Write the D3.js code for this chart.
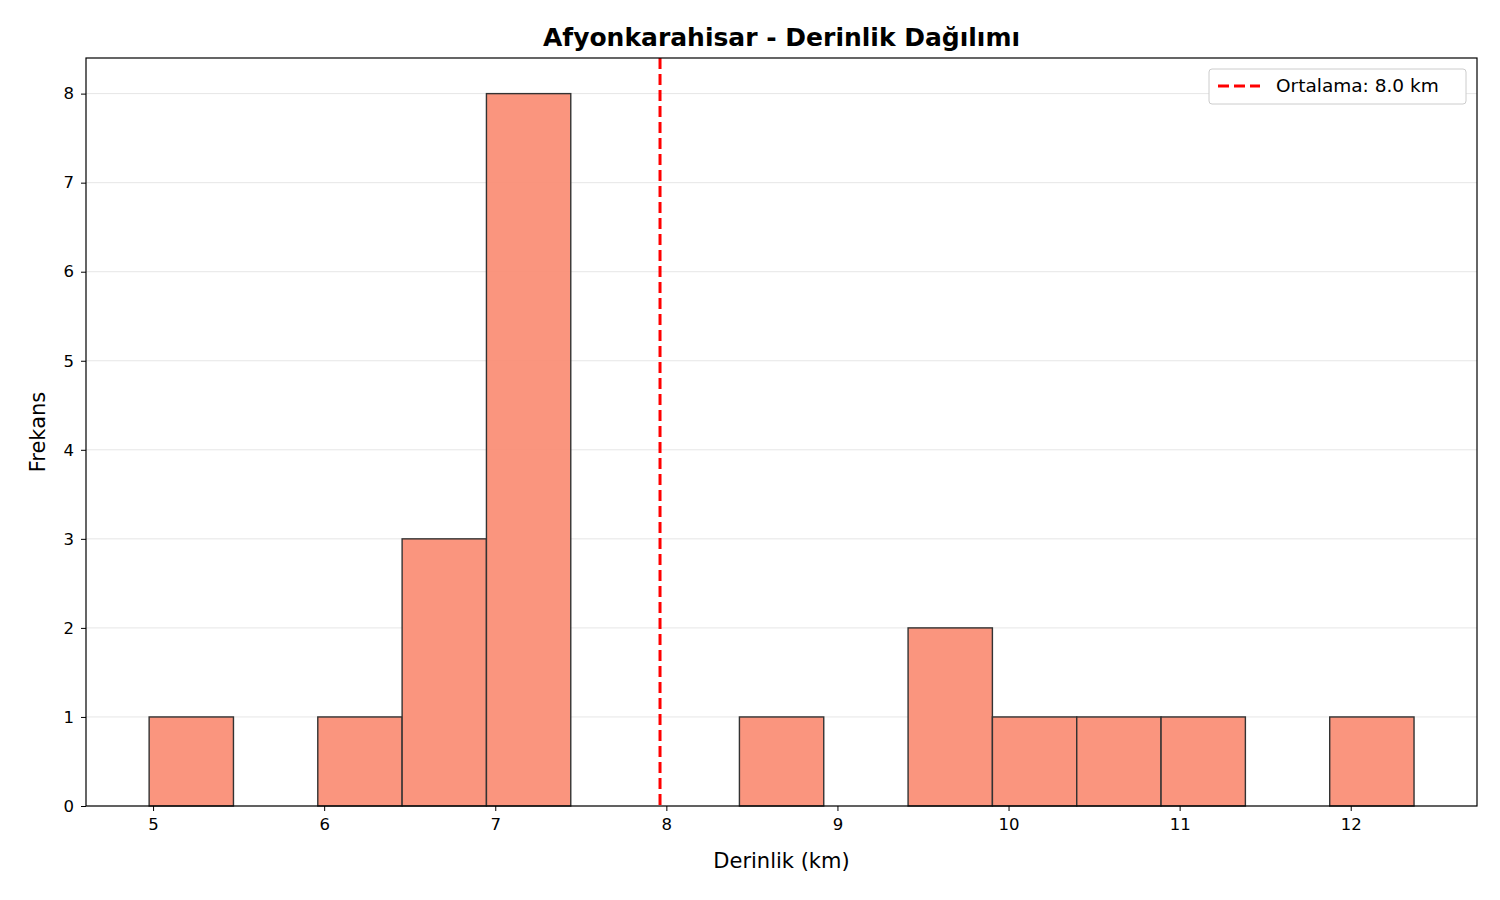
<!DOCTYPE html>
<html><head><meta charset="utf-8">
<script src="https://cdn.jsdelivr.net/npm/d3@7"></script>
<style>body{margin:0;background:#fff}text{font-family:"DejaVu Sans",sans-serif}</style>
</head><body><svg id="c" width="1500" height="900"></svg>
<script>
// histogram bins (km) and counts
var binStart = 4.977, binEnd = 12.37;
var counts = [1, 0, 1, 3, 8, 0, 0, 1, 0, 2, 1, 1, 1, 0, 1];
var meanDepth = 7.963;
var xTicks = [5, 6, 7, 8, 9, 10, 11, 12];
var yTicks = [0, 1, 2, 3, 4, 5, 6, 7, 8];

var svg = d3.select("#c");
var m = { l: 86, r: 1477, t: 58, b: 806 };
var x = d3.scaleLinear().domain([4.608, 12.738]).range([m.l, m.r]);
var y = d3.scaleLinear().domain([0, 8.4]).range([m.b, m.t]);
var bw = (binEnd - binStart) / counts.length;

svg.append("g").selectAll("line").data(yTicks).join("line")
    .attr("x1", m.l).attr("x2", m.r).attr("y1", function (d) { return y(d); }).attr("y2", function (d) { return y(d); })
    .attr("stroke", "#e6e6e6").attr("stroke-width", 1);

svg.append("g").selectAll("rect").data(counts.map(function (c, i) { return { c: c, i: i }; }).filter(function (d) { return d.c > 0; }))
    .join("rect")
    .attr("x", function (d) { return x(binStart + d.i * bw); })
    .attr("width", function (d) { return x(binStart + (d.i + 1) * bw) - x(binStart + d.i * bw); })
    .attr("y", function (d) { return y(d.c); })
    .attr("height", function (d) { return y(0) - y(d.c); })
    .attr("fill", "#fa8f77").attr("fill-opacity", 0.95).attr("stroke", "#333").attr("stroke-width", 1.4);

svg.append("line").attr("x1", x(meanDepth)).attr("x2", x(meanDepth)).attr("y1", m.t).attr("y2", m.b)
    .attr("stroke", "red").attr("stroke-width", 3).attr("stroke-dasharray", "11,5");

var xa = svg.append("g").attr("transform", "translate(0," + m.b + ")")
    .call(d3.axisBottom(x).tickValues(xTicks).tickSize(5).tickPadding(7));
var ya = svg.append("g").attr("transform", "translate(" + m.l + ",0)")
    .call(d3.axisLeft(y).tickValues(yTicks).tickSize(5).tickPadding(7));
[xa, ya].forEach(function (a) {
    a.attr("font-size", null).attr("font-family", null);
    a.select(".domain").remove();
    a.selectAll("text").attr("font-size", "16.5px").attr("fill", "#000");
    a.selectAll("line").attr("stroke", "#000");
});
svg.append("rect").attr("x", m.l).attr("y", m.t).attr("width", m.r - m.l).attr("height", m.b - m.t)
    .attr("fill", "none").attr("stroke", "#000").attr("stroke-width", 1.2);

svg.append("text").attr("x", (m.l + m.r) / 2).attr("y", 46).attr("text-anchor", "middle")
    .attr("font-size", "25px").attr("font-weight", "bold").text("Afyonkarahisar - Derinlik Dağılımı");
svg.append("text").attr("x", (m.l + m.r) / 2).attr("y", 868).attr("text-anchor", "middle")
    .attr("font-size", "21px").text("Derinlik (km)");
svg.append("text").attr("transform", "translate(45," + (m.t + m.b) / 2 + ") rotate(-90)").attr("text-anchor", "middle")
    .attr("font-size", "21px").text("Frekans");

var lg = svg.append("g").attr("transform", "translate(1209,69)");
lg.append("rect").attr("width", 257).attr("height", 35).attr("rx", 3).attr("fill", "#fff").attr("stroke", "#ccc");
lg.append("line").attr("x1", 9).attr("x2", 51).attr("y1", 17).attr("y2", 17).attr("stroke", "red").attr("stroke-width", 3).attr("stroke-dasharray", "11,5");
lg.append("text").attr("x", 67).attr("y", 23).attr("font-size", "18.5px").text("Ortalama: 8.0 km");
</script></body></html>
